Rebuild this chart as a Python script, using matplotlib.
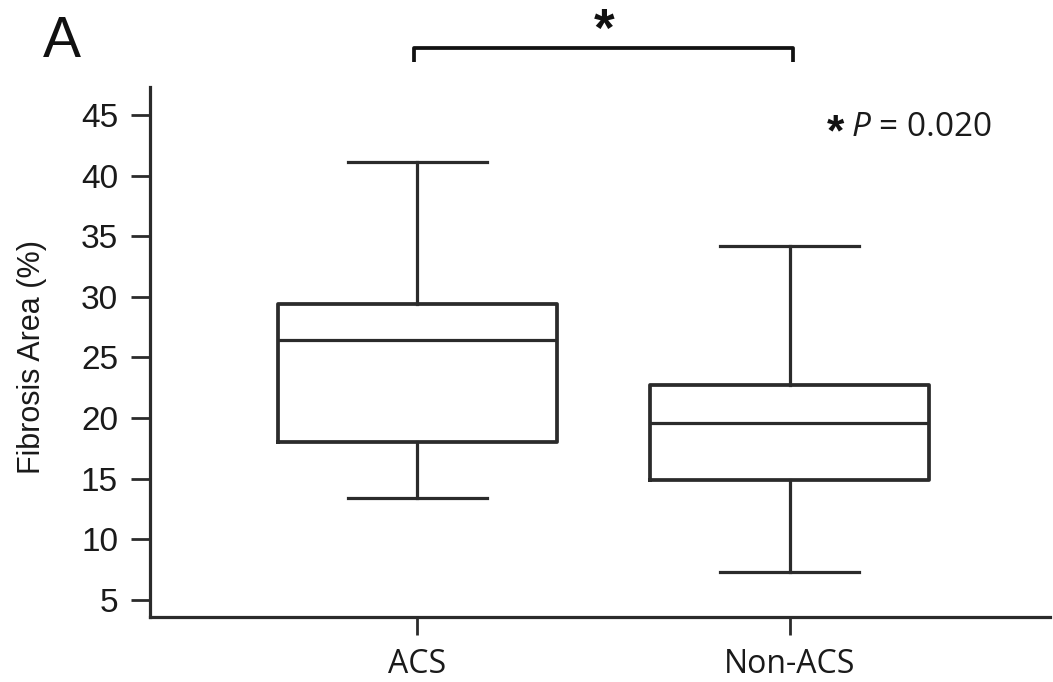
import matplotlib
matplotlib.use("Agg")
import matplotlib.pyplot as plt

# ---- data ----
categories = ["ACS", "Non-ACS"]
whisker_low = [13.4, 7.3]
q1_values = [18.0, 14.9]
medians = [26.4, 19.6]
q3_values = [29.4, 22.7]
whisker_high = [41.1, 34.2]
y_ticks = [5, 10, 15, 20, 25, 30, 35, 40, 45]
p_text = "= 0.020"

plt.rcParams['mathtext.fontset'] = 'custom'
plt.rcParams['mathtext.it'] = 'Open Sans:italic'
plt.rcParams['mathtext.rm'] = 'Open Sans'

LC = "#2b2b2b"
fig = plt.figure(figsize=(10.53, 6.82), dpi=100)
ax = fig.add_axes([0.1425, 0.0953, 0.8547, 0.7771])

positions = [1, 2]
stats = []
for i, c in enumerate(categories):
    stats.append(dict(label=c, whislo=whisker_low[i], q1=q1_values[i], med=medians[i],
                      q3=q3_values[i], whishi=whisker_high[i], fliers=[]))

ax.bxp(stats, positions=positions, widths=0.75, capwidths=0.374, showfliers=False,
       boxprops=dict(color=LC, linewidth=2.7),
       whiskerprops=dict(color=LC, linewidth=2.3),
       capprops=dict(color=LC, linewidth=2.3),
       medianprops=dict(color=LC, linewidth=2.3))

ax.set_xlim(0.282, 2.70)
ax.set_ylim(3.6, 47.3)
ax.set_yticks(y_ticks)
ax.set_xticks(positions)
ax.set_xticklabels(categories, fontfamily="Open Sans", fontsize=23, color="#1a1a1a")
for lab in ax.get_yticklabels():
    lab.set_fontfamily("Liberation Sans")
    lab.set_fontsize(24)
    lab.set_color("#1a1a1a")

ax.tick_params(axis='y', direction='out', length=14, width=2.0, color=LC, pad=9)
ax.tick_params(axis='x', direction='out', length=13, width=2.0, color=LC, pad=9)

for s in ['top', 'right']:
    ax.spines[s].set_visible(False)
for s in ['left', 'bottom']:
    ax.spines[s].set_color(LC)
    ax.spines[s].set_linewidth(2.3)

ax.set_ylabel("Fibrosis Area (%)", fontfamily="Liberation Sans", fontsize=22, color="#1a1a1a")
ax.yaxis.set_label_coords(-0.114, 0.49)

# significance bracket
ax.plot([0.99, 0.99, 2.01, 2.01], [49.4, 50.55, 50.55, 49.4], color="#111111",
        linewidth=2.7, clip_on=False, solid_capstyle='butt')
ax.text(1.503, 51.8, "*", ha='center', va='center', fontsize=38, fontweight='bold',
        fontfamily="Liberation Sans", color="#111111", clip_on=False)

# p-value annotation
ax.text(2.124, 43.4, "*", ha='center', va='center', fontsize=32, fontweight='bold',
        fontfamily="Liberation Sans", color="#111111")
ax.text(2.165, 43.95, r"$\mathit{P}$ " + p_text, ha='left', va='center', fontsize=24,
        fontfamily="Open Sans", color="#1a1a1a")

# panel label
fig.text(0.041, 1 - 57 / 682, "A", fontsize=41, fontfamily="Liberation Sans",
         va='baseline', ha='left', color="#111111")

fig.savefig("out.png", dpi=100)
